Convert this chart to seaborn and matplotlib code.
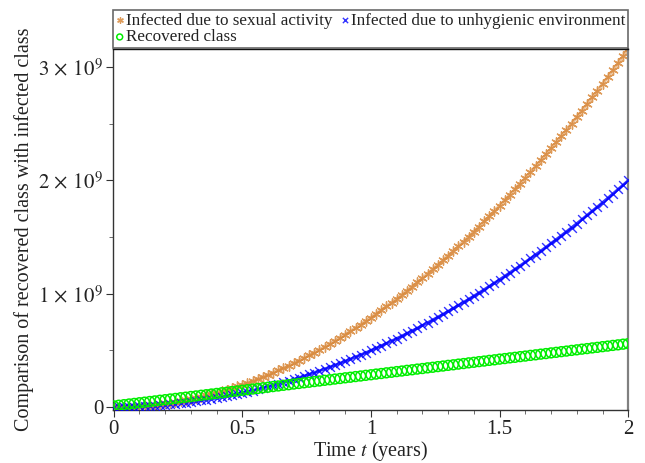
import matplotlib
matplotlib.use("Agg")
import matplotlib.pyplot as plt
import matplotlib.ticker as mticker
import seaborn as sns
import pandas as pd

# values, in units of 1e9, at t = 0, 0.02, ..., 2.00
time_years = [round(0.02 * i, 2) for i in range(101)]

sexual = [
    0.000, 0.000, 0.001, 0.003, 0.005, 0.008, 0.011, 0.016, 0.020, 0.026,
    0.032, 0.038, 0.046, 0.053, 0.062, 0.071, 0.081, 0.091, 0.102, 0.114,
    0.126, 0.139, 0.153, 0.167, 0.182, 0.198, 0.214, 0.230, 0.248, 0.266,
    0.284, 0.304, 0.324, 0.344, 0.365, 0.387, 0.410, 0.433, 0.456, 0.481,
    0.506, 0.531, 0.557, 0.584, 0.612, 0.640, 0.669, 0.698, 0.728, 0.759,
    0.790, 0.822, 0.855, 0.888, 0.922, 0.956, 0.991, 1.027, 1.063, 1.100,
    1.138, 1.176, 1.215, 1.254, 1.294, 1.335, 1.377, 1.419, 1.461, 1.505,
    1.548, 1.593, 1.638, 1.684, 1.730, 1.778, 1.825, 1.874, 1.923, 1.972,
    2.022, 2.073, 2.125, 2.177, 2.230, 2.283, 2.337, 2.392, 2.447, 2.503,
    2.560, 2.617, 2.675, 2.733, 2.792, 2.852, 2.912, 2.973, 3.035, 3.097,
    3.160,
]

unhygienic = [
    0.000, 0.000, 0.001, 0.002, 0.003, 0.005, 0.007, 0.010, 0.013, 0.016,
    0.020, 0.024, 0.029, 0.034, 0.039, 0.045, 0.051, 0.058, 0.065, 0.072,
    0.080, 0.088, 0.097, 0.106, 0.115, 0.125, 0.135, 0.146, 0.157, 0.168,
    0.180, 0.192, 0.205, 0.218, 0.231, 0.245, 0.259, 0.274, 0.289, 0.304,
    0.320, 0.336, 0.353, 0.370, 0.387, 0.405, 0.423, 0.442, 0.461, 0.480,
    0.500, 0.520, 0.541, 0.562, 0.583, 0.605, 0.627, 0.650, 0.673, 0.696,
    0.720, 0.744, 0.769, 0.794, 0.819, 0.845, 0.871, 0.898, 0.925, 0.952,
    0.980, 1.008, 1.037, 1.066, 1.095, 1.125, 1.155, 1.186, 1.217, 1.248,
    1.280, 1.312, 1.345, 1.378, 1.411, 1.445, 1.479, 1.514, 1.549, 1.584,
    1.620, 1.656, 1.693, 1.730, 1.767, 1.805, 1.843, 1.882, 1.921, 1.960,
    2.000,
]

recovered = [
    0.010, 0.016, 0.021, 0.027, 0.032, 0.038, 0.043, 0.049, 0.054, 0.060,
    0.065, 0.071, 0.076, 0.082, 0.087, 0.093, 0.098, 0.104, 0.109, 0.115,
    0.120, 0.126, 0.131, 0.137, 0.142, 0.148, 0.153, 0.159, 0.164, 0.170,
    0.175, 0.181, 0.186, 0.192, 0.197, 0.203, 0.208, 0.214, 0.219, 0.225,
    0.230, 0.236, 0.241, 0.247, 0.252, 0.258, 0.263, 0.269, 0.274, 0.280,
    0.285, 0.291, 0.296, 0.302, 0.307, 0.313, 0.318, 0.324, 0.329, 0.335,
    0.340, 0.346, 0.351, 0.357, 0.362, 0.368, 0.373, 0.379, 0.384, 0.390,
    0.395, 0.401, 0.406, 0.412, 0.417, 0.423, 0.428, 0.434, 0.439, 0.445,
    0.450, 0.456, 0.461, 0.467, 0.472, 0.478, 0.483, 0.489, 0.494, 0.500,
    0.505, 0.511, 0.516, 0.522, 0.527, 0.533, 0.538, 0.544, 0.549, 0.555,
    0.560,
]

labels = ["Infected due to sexual activity",
          "Infected due to unhygienic environment",
          "Recovered class"]

df = pd.DataFrame({
    "t": time_years,
    "sexual": [v * 1e9 for v in sexual],
    "unhygienic": [v * 1e9 for v in unhygienic],
    "recovered": [v * 1e9 for v in recovered],
})

ORANGE = "#D98A3D"
BLUE = "#0000FF"
GREEN = "#00EE00"

sns.set_style("ticks")
plt.rcParams["font.family"] = ["Liberation Serif", "DejaVu Serif"]
plt.rcParams["mathtext.fontset"] = "stix"

fig = plt.figure(figsize=(6.45, 4.63), dpi=100)
ax = fig.add_axes([0.175, 0.1145, 0.799, 0.7795])

# thin underlying lines so the dense point bands look continuous
sns.lineplot(data=df, x="t", y="sexual", ax=ax, color=ORANGE, lw=2.2,
             alpha=0.55, zorder=1, legend=False)
sns.lineplot(data=df, x="t", y="unhygienic", ax=ax, color=BLUE, lw=2.0,
             alpha=0.8, zorder=2, legend=False)

sns.scatterplot(data=df, x="t", y="sexual", ax=ax, marker=(6, 2, 0),
                color=ORANGE, s=45, linewidth=1.0, alpha=0.85,
                label=labels[0], zorder=2)
sns.scatterplot(data=df, x="t", y="unhygienic", ax=ax, marker="x",
                color=BLUE, s=40, linewidth=1.0, alpha=0.8,
                label=labels[1], zorder=3)
sns.scatterplot(data=df, x="t", y="recovered", ax=ax, marker="o",
                facecolor="none", edgecolor=GREEN, s=50, linewidth=1.1,
                label=labels[2], zorder=4)

ax.set_xlim(-0.003, 2.0)
ax.set_ylim(-0.026e9, 3.16e9)

ax.xaxis.set_major_locator(mticker.FixedLocator([0, 0.5, 1, 1.5, 2]))
ax.xaxis.set_major_formatter(mticker.FixedFormatter(["0", "0.5", "1", "1.5", "2"]))
ax.xaxis.set_minor_locator(mticker.MultipleLocator(0.1))
ax.yaxis.set_major_locator(mticker.FixedLocator([0, 1e9, 2e9, 3e9]))
ax.yaxis.set_major_formatter(mticker.FixedFormatter(
    ["0", r"$1\,\times\,10^{9}$", r"$2\,\times\,10^{9}$", r"$3\,\times\,10^{9}$"]))
ax.yaxis.set_minor_locator(mticker.MultipleLocator(0.5e9))

ax.tick_params(axis="both", which="major", direction="out", length=5,
               width=0.8, labelsize=15, pad=2, colors="#333333",
               labelcolor="#222222")
ax.tick_params(axis="both", which="minor", direction="out", length=3,
               width=0.6, colors="#555555")

for side in ["left", "bottom"]:
    ax.spines[side].set_color("#333333")
    ax.spines[side].set_linewidth(1.0)
ax.spines["right"].set_visible(True)
ax.spines["top"].set_visible(True)
ax.spines["right"].set_color("#808080")
ax.spines["right"].set_linewidth(1.6)
ax.spines["top"].set_color("#111111")
ax.spines["top"].set_linewidth(1.0)

ax.set_xlabel("Time $t$ (years)", fontsize=14.5, labelpad=0, color="#222222")
ax.set_ylabel("Comparison of recovered class with infected class",
              fontsize=14.5, labelpad=3, color="#222222")

# legend rows: (sexual, unhygienic) then (recovered); matplotlib fills by column
handles, labs = ax.get_legend_handles_labels()
order = [0, 2, 1]
leg = ax.legend([handles[i] for i in order], [labs[i] for i in order],
                loc="lower left", bbox_to_anchor=(0, 1.003, 1, 0.1),
                mode="expand", ncol=2, fontsize=12.3, frameon=True,
                fancybox=False, borderaxespad=0, borderpad=0.15,
                handlelength=0.5, handletextpad=0.1, columnspacing=0.5,
                labelspacing=0.05, markerscale=0.6)
leg.get_frame().set_edgecolor("#444444")
leg.get_frame().set_linewidth(1.2)
for txt in leg.get_texts():
    txt.set_color("#222222")

fig.savefig("out.png", dpi=100)
